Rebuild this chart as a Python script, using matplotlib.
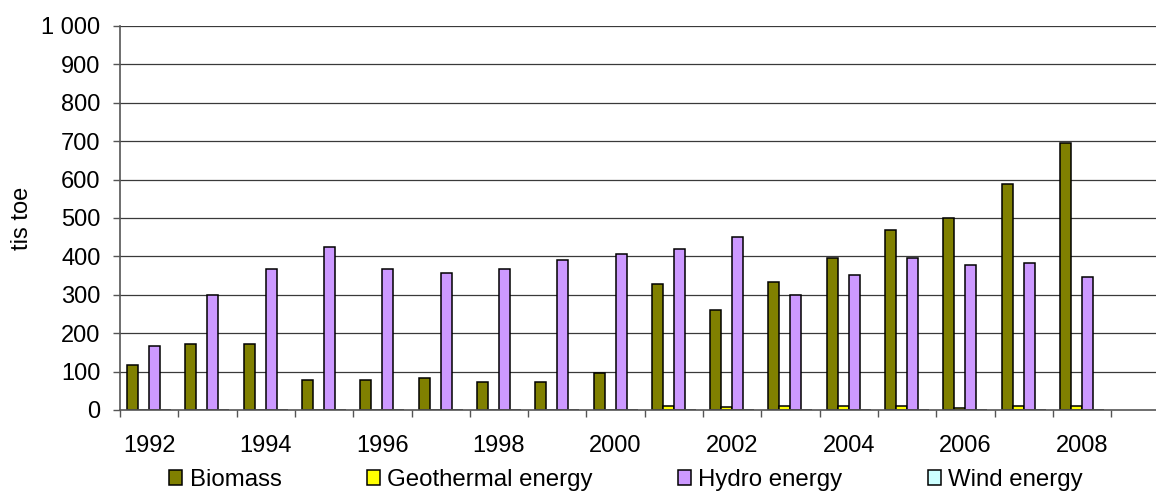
import matplotlib
matplotlib.use("Agg")
import matplotlib.pyplot as plt
import numpy as np
from matplotlib.ticker import FixedLocator, FuncFormatter

plt.rcParams["font.family"] = ["Liberation Sans", "DejaVu Sans"]

YEARS = list(range(1992, 2009))
BIOMASS = [118, 171, 171, 78, 78, 83, 73, 73, 97, 328, 260, 333, 396, 470, 499, 588, 695]
GEOTHERMAL = [0, 0, 0, 0, 0, 0, 0, 0, 0, 10, 9, 10, 10, 10, 4, 10, 10]
HYDRO = [167, 300, 368, 425, 367, 358, 367, 391, 406, 420, 451, 300, 352, 397, 377, 382, 347]
WIND = [0] * len(YEARS)

SERIES = [
    ("Biomass", BIOMASS, "#808000"),
    ("Geothermal energy", GEOTHERMAL, "#ffff00"),
    ("Hydro energy", HYDRO, "#cc99ff"),
    ("Wind energy", WIND, "#ccffff"),
]

W, H = 1156, 491
fig = plt.figure(figsize=(W / 100, H / 100), dpi=100)
ax = fig.add_axes([120 / W, 1 - 410 / H, 1 - 120 / W, 384 / H])

x = np.arange(len(YEARS))
bw = 1 / 5.3
handles = []
for i, (name, vals, color) in enumerate(SERIES):
    b = ax.bar(x + (i - 1.5) * bw, vals, width=bw, color=color,
               edgecolor="black", linewidth=1.1, label=name, zorder=3)
    handles.append(b)

ax.set_ylim(0, 1000)
ax.set_xlim(-0.5, 17.27)
ax.set_yticks(np.arange(0, 1001, 100))
ax.yaxis.set_major_formatter(FuncFormatter(lambda v, p: f"{v:,.0f}".replace(",", " ")))
for v in range(100, 1001, 100):
    ax.axhline(v, color="#3a3a3a", linewidth=0.9, zorder=1)

# labels every other year at category centres, tick marks at boundaries
ax.xaxis.set_major_locator(FixedLocator(x[::2]))
ax.set_xticklabels([str(y) for y in YEARS[::2]])
ax.xaxis.set_minor_locator(FixedLocator(np.arange(-0.5, 17.6, 1)))
ax.tick_params(axis="x", which="major", length=0, pad=18, labelsize=17)
ax.tick_params(axis="x", which="minor", length=5, width=1, color="#555555")
ax.tick_params(axis="y", length=5, width=1, pad=9, labelsize=17, color="#555555")

for side in ("top", "right"):
    ax.spines[side].set_visible(False)
for side in ("left", "bottom"):
    ax.spines[side].set_color("#555555")
    ax.spines[side].set_linewidth(1.2)
    ax.spines[side].set_zorder(4)

ax.set_ylabel("tis toe", fontsize=17)
ax.yaxis.set_label_coords(-87 / 1036, 0.5)

fig.legend(handles=handles, loc="center", bbox_to_anchor=(626 / W, 1 - 480 / H),
           ncol=4, frameon=False, fontsize=17.3, handlelength=0.55, handleheight=0.55,
           handletextpad=0.3, columnspacing=3.55, borderpad=0, borderaxespad=0)

fig.savefig("out.png", dpi=100)
